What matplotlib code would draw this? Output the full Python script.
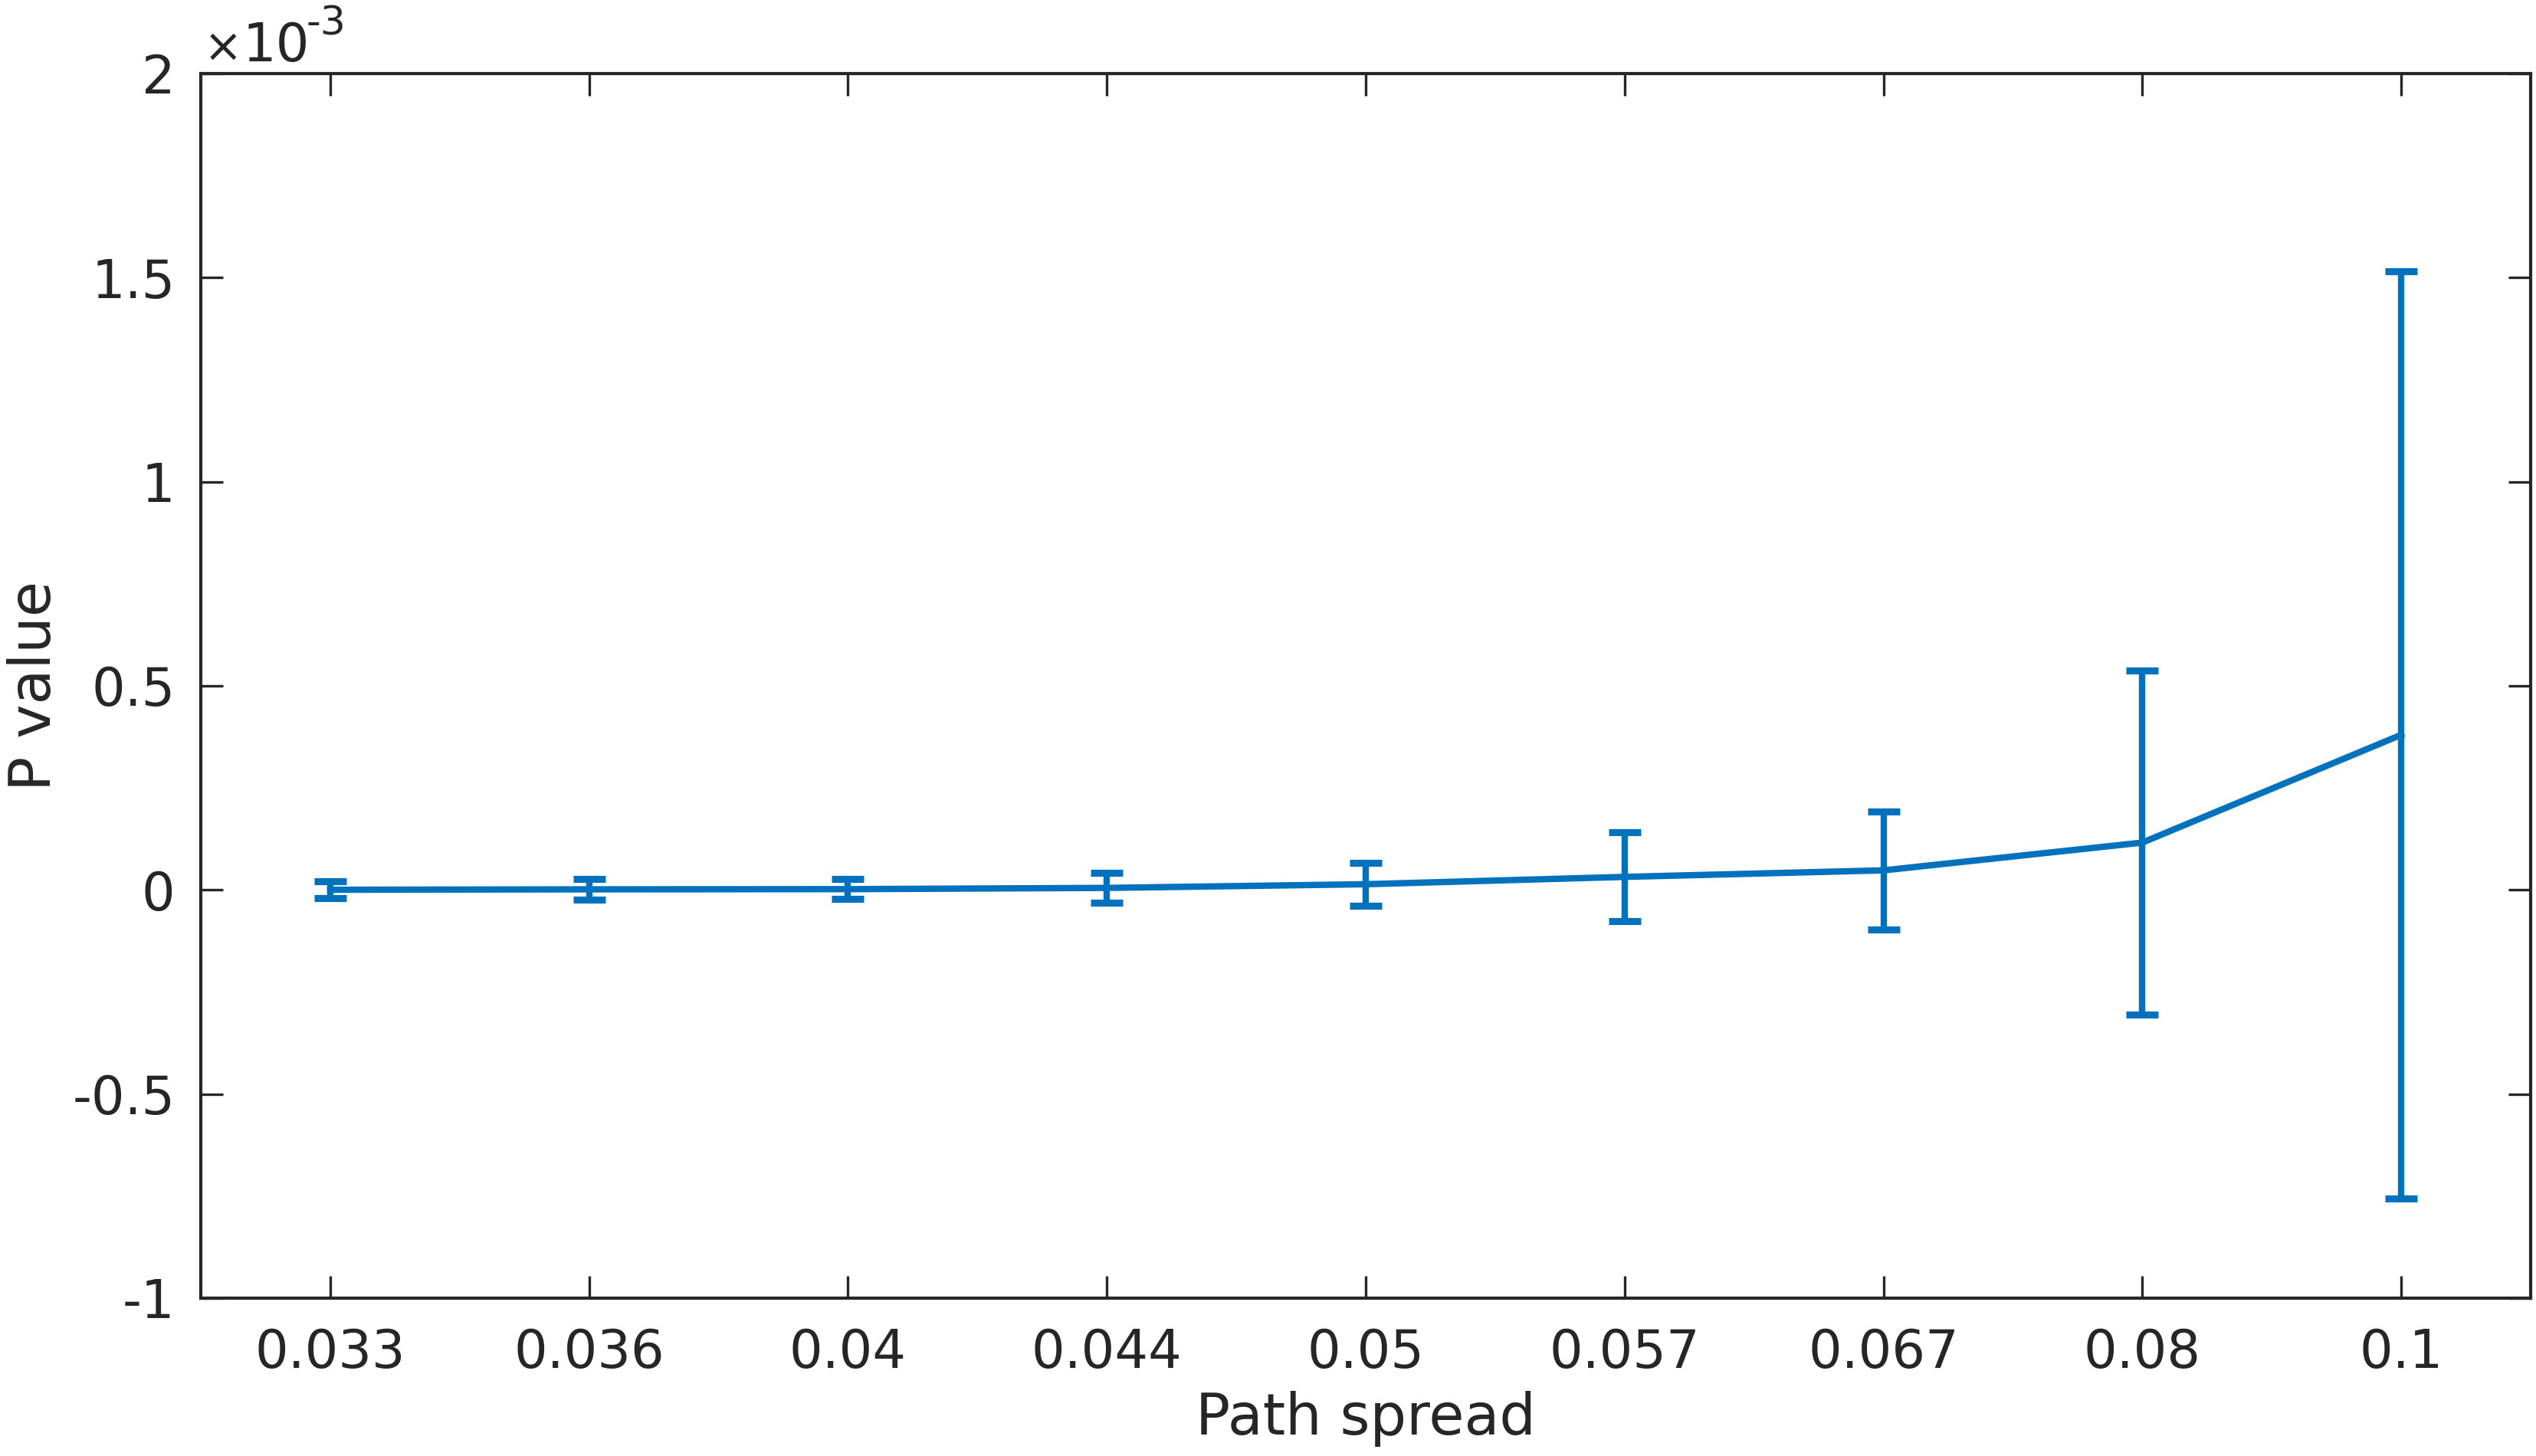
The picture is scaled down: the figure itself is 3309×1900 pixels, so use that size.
import matplotlib
matplotlib.use("Agg")
import matplotlib.pyplot as plt
import numpy as np

# values in units of 1e-3
spread_labels = ['0.033', '0.036', '0.04', '0.044', '0.05', '0.057', '0.067', '0.08', '0.1']
p_mean = [0.0005, 0.0015, 0.002, 0.005, 0.014, 0.032, 0.048, 0.116, 0.380]
p_err = [0.021, 0.025, 0.024, 0.037, 0.052, 0.109, 0.145, 0.421, 1.136]
ytick_vals = [-1, -0.5, 0, 0.5, 1, 1.5, 2]
ytick_labels = ['-1', '-0.5', '0', '0.5', '1', '1.5', '2']

blue = '#0072BD'
dark = '#262626'

plt.rcParams['font.family'] = ['DejaVu Sans']

fig = plt.figure(figsize=(3309 / 300, 1900 / 300), dpi=300)
ax = fig.add_axes([262 / 3309, 1 - 1694 / 1900, (3302 - 262) / 3309, (1694 - 96) / 1900])

x = np.arange(1, len(spread_labels) + 1)
ax.errorbar(x, p_mean, yerr=p_err, color=blue, lw=2.0, elinewidth=2.0,
            capsize=5, capthick=2.2)

ax.set_xlim(0.5, len(spread_labels) + 0.5)
ax.set_ylim(-1, 2)
ax.set_xticks(x)
ax.set_xticklabels(spread_labels)
ax.set_yticks(ytick_vals)
ax.set_yticklabels(ytick_labels)

ax.tick_params(direction='in', length=7, width=0.8, colors=dark, labelsize=16.5,
               top=True, right=True, pad=8)
ax.tick_params(axis='x', pad=9)
for s in ax.spines.values():
    s.set_linewidth(1.0)
    s.set_color(dark)

ax.set_xlabel('Path spread', fontsize=18, color=dark, labelpad=4)
ax.set_ylabel('P value', fontsize=18, color=dark, labelpad=3)

# exponent label above the y axis
fig.text(266 / 3309, 1 - 80 / 1900, '\u00d7', fontsize=14.5, color=dark, va='baseline', ha='left')
fig.text(316 / 3309, 1 - 80 / 1900, '10', fontsize=16.5, color=dark, va='baseline', ha='left')
fig.text(400 / 3309, 1 - 45 / 1900, '-3', fontsize=12.5, color=dark, va='baseline', ha='left')

fig.savefig('out.png', dpi=300)
